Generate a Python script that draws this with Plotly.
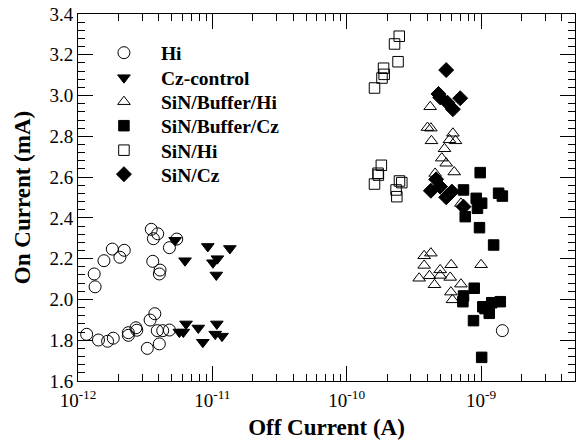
import plotly.graph_objects as go

# Off current (A) and on current (mA) for each device group
hi_off = [1.32e-12, 1.34e-12, 1.56e-12, 1.80e-12, 2.05e-12, 2.21e-12, 3.51e-12, 3.92e-12,
          3.64e-12, 3.60e-12, 4.08e-12, 4.03e-12, 4.79e-12, 5.43e-12,
          1.16e-12, 1.42e-12, 1.66e-12, 1.83e-12, 2.37e-12, 2.37e-12, 2.70e-12, 2.74e-12,
          3.44e-12, 3.73e-12, 3.28e-12, 4.03e-12, 3.89e-12, 4.27e-12, 4.79e-12, 1.44e-9]
hi_on = [2.125, 2.062, 2.190, 2.247, 2.207, 2.241, 2.344, 2.322,
         2.298, 2.187, 2.144, 2.125, 2.254, 2.296,
         1.829, 1.801, 1.795, 1.810, 1.837, 1.824, 1.861, 1.849,
         1.899, 1.930, 1.760, 1.782, 1.847, 1.847, 1.850, 1.847]

cz_off = [5.28e-12, 9.25e-12, 1.35e-11, 6.26e-12, 1.01e-11, 1.09e-11, 1.07e-11,
          5.68e-12, 6.08e-12, 6.37e-12, 7.86e-12, 8.49e-12, 1.08e-11, 1.05e-11, 1.18e-11]
cz_on = [2.29, 2.26, 2.25, 2.19, 2.18, 2.20, 2.12,
         1.84, 1.84, 1.88, 1.86, 1.79, 1.88, 1.83, 1.82]

sbh_off = [4.18e-10, 3.99e-10, 4.23e-10, 4.27e-10, 6.17e-10, 5.82e-10, 6.45e-10, 5.34e-10,
           5.10e-10, 5.50e-10, 4.55e-10, 6.31e-10, 7.08e-10,
           3.77e-10, 4.23e-10, 3.77e-10, 5.99e-10, 1.00e-9, 4.96e-10, 4.13e-10, 3.46e-10,
           4.96e-10, 5.89e-10, 4.50e-10, 7.08e-10, 5.96e-10, 6.12e-10]
sbh_on = [2.945, 2.843, 2.840, 2.778, 2.815, 2.783, 2.778, 2.739,
          2.693, 2.668, 2.618, 2.625, 2.471,
          2.214, 2.227, 2.167, 2.170, 2.170, 2.145, 2.116, 2.104,
          2.118, 2.108, 2.072, 2.075, 2.036, 1.998]

sbc_off = [9.85e-10, 7.40e-10, 9.20e-10, 1.01e-9, 9.40e-10, 1.35e-9, 1.44e-9, 7.62e-10,
           9.73e-10, 1.24e-9,
           8.89e-10, 7.40e-10, 7.32e-10, 1.03e-9, 1.20e-9, 1.39e-9, 1.15e-9, 8.78e-10,
           1.07e-9, 1.01e-9]
sbc_on = [2.622, 2.537, 2.496, 2.472, 2.447, 2.521, 2.507, 2.406,
          2.352, 2.267,
          2.055, 2.017, 1.989, 1.964, 1.984, 1.989, 1.932, 1.896,
          1.955, 1.716]

sh_off = [2.46e-10, 2.27e-10, 2.41e-10, 1.88e-10, 1.90e-10, 1.83e-10, 1.61e-10,
          1.81e-10, 1.71e-10, 1.72e-10, 1.61e-10, 2.47e-10, 2.57e-10, 2.33e-10, 2.36e-10]
sh_on = [3.291, 3.253, 3.166, 3.134, 3.104, 3.086, 3.037,
         2.658, 2.619, 2.610, 2.566, 2.581, 2.573, 2.537, 2.504]

sc_off = [5.50e-10, 4.82e-10, 4.96e-10, 5.62e-10, 6.17e-10, 6.99e-10,
          4.63e-10, 4.23e-10, 4.96e-10, 5.50e-10, 6.06e-10, 7.40e-10]
sc_on = [3.125, 3.008, 2.991, 2.965, 2.933, 2.987,
         2.589, 2.533, 2.553, 2.501, 2.529, 2.455]

x_tick_vals = [1e-12, 1e-11, 1e-10, 1e-9]
x_tick_text = ["10<sup>-12</sup>", "10<sup>-11</sup>", "10<sup>-10</sup>", "10<sup>-9</sup>"]
x_minor_vals = [m * 10.0 ** e for e in (-12, -11, -10) for m in range(2, 10)] + [2e-9, 3e-9, 4e-9]

FONT = "Liberation Serif, Times New Roman, serif"

series = [
    ("Hi", hi_off, hi_on, "circle-open", 12),
    ("Cz-control", cz_off, cz_on, "triangle-down", 11),
    ("SiN/Buffer/Hi", sbh_off, sbh_on, "triangle-up-open", 11),
    ("SiN/Buffer/Cz", sbc_off, sbc_on, "square", 10.5),
    ("SiN/Hi", sh_off, sh_on, "square-open", 10.5),
    ("SiN/Cz", sc_off, sc_on, "diamond", 11.5),
]

# plot area: 78..575 px horizontally, 14..381 px vertically
PLOT_TOP, PLOT_BOTTOM = 14, 381
legend_rows_px = [53, 78, 102, 126, 150.5, 174.5]

fig = go.Figure()
legend_layout = {}
for i, (name, xs, ys, sym, size) in enumerate(series):
    key = "legend" if i == 0 else f"legend{i + 1}"
    fig.add_trace(go.Scatter(
        x=xs, y=ys, mode="markers", name=name, legend=key, showlegend=True,
        marker=dict(symbol=sym, size=size, color="black",
                    line=dict(color="black", width=1)),
    ))
    legend_layout[key] = dict(
        x=0.018, xanchor="left",
        y=(PLOT_BOTTOM - legend_rows_px[i]) / (PLOT_BOTTOM - PLOT_TOP), yanchor="middle",
        bgcolor="rgba(0,0,0,0)", borderwidth=0,
        font=dict(family=FONT, size=19.5, color="black", weight="bold"),
        itemwidth=64,
    )

axis_common = dict(
    showline=True, linecolor="black", linewidth=1, mirror="allticks",
    ticks="inside", tickcolor="black", tickwidth=1, ticklen=15,
    showgrid=False, zeroline=False, automargin=False,
    tickfont=dict(family=FONT, size=19, color="black"),
)

fig.update_xaxes(
    type="log", range=[-12, -8.30103],
    tickmode="array", tickvals=x_tick_vals, ticktext=x_tick_text,
    minor=dict(ticks="inside", ticklen=7, tickcolor="black", tickwidth=1,
               tickmode="array", tickvals=x_minor_vals),
    ticklabelstandoff=2,
    title=dict(text="<b>Off Current (A)</b>", font=dict(family=FONT, size=23, color="black"),
               standoff=9),
    **axis_common,
)
fig.update_yaxes(
    range=[1.6, 3.4], tickmode="linear", tick0=1.6, dtick=0.2, tickformat=".1f",
    minor=dict(ticks="inside", ticklen=7, tickcolor="black", tickwidth=1, dtick=0.04, tick0=1.6),
    title=dict(text="<b>On Current (mA)</b>", font=dict(family=FONT, size=23, color="black"),
               standoff=12),
    **axis_common,
)

fig.update_layout(
    width=582, height=446,
    margin=dict(l=78, r=7, t=14, b=65),
    paper_bgcolor="white", plot_bgcolor="white",
    font=dict(family=FONT, color="black"),
    showlegend=True,
    **legend_layout,
)

fig.write_html("out.html")
